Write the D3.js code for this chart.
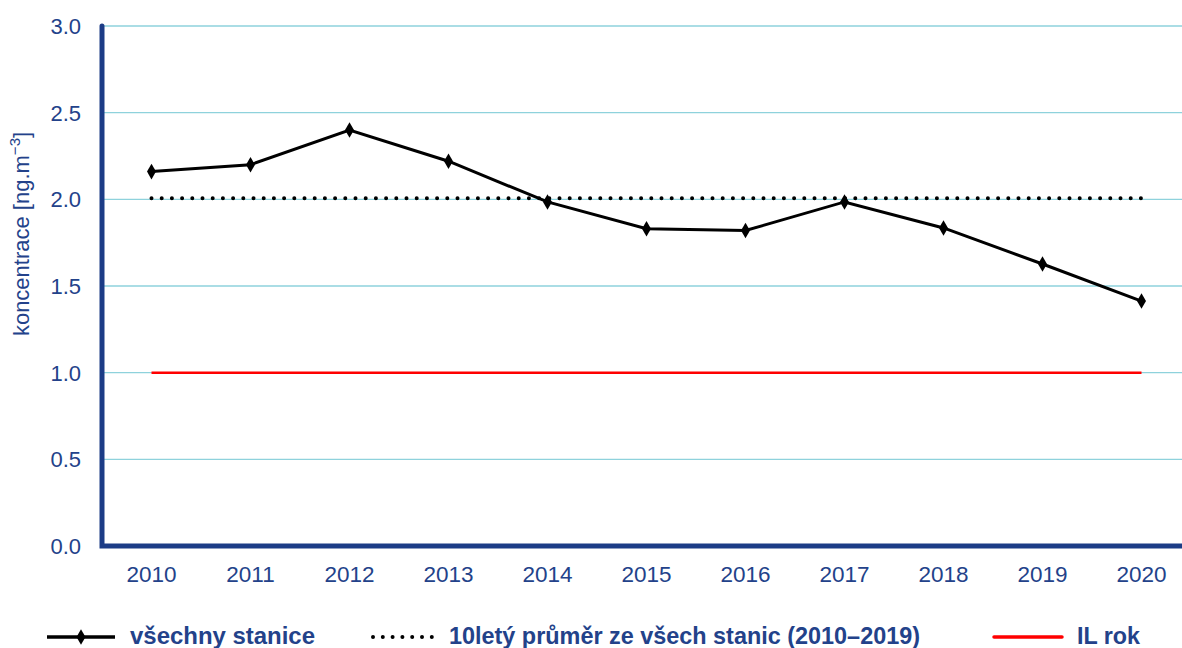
<!DOCTYPE html>
<html>
<head>
<meta charset="utf-8">
<script src="https://cdn.jsdelivr.net/npm/d3@7"></script>
<style>
  body { margin: 0; background: #fff; }
  svg { display: block; font-family: "Liberation Sans", Arial, sans-serif; }
</style>
</head>
<body>
<svg id="chart" width="1182" height="648"></svg>
<script>
// data
const years = ['2010', '2011', '2012', '2013', '2014', '2015', '2016', '2017', '2018', '2019', '2020'];
const allStations = [2.16, 2.20, 2.40, 2.22, 1.985, 1.83, 1.82, 1.985, 1.835, 1.627, 1.413];
const avg10 = [2.006, 2.006, 2.006, 2.006, 2.006, 2.006, 2.006, 2.006, 2.006, 2.006, 2.006];
const limit = [1.0, 1.0, 1.0, 1.0, 1.0, 1.0, 1.0, 1.0, 1.0, 1.0, 1.0];
const yTicks = [0, 0.5, 1.0, 1.5, 2.0, 2.5, 3.0];

const axisBlue = '#1c3c86';
const textBlue = '#23428a';

const svg = d3.select('#chart');
const plotLeft = 102, plotRight = 1191, plotTop = 26, plotBottom = 546;

const x = d3.scaleBand().domain(years).range([plotLeft, plotRight]);
const y = d3.scaleLinear().domain([0, 3]).range([plotBottom, plotTop]);
const cx = d => x(d) + x.bandwidth() / 2;

// gridlines
svg.append('g')
  .selectAll('line')
  .data(yTicks.filter(t => t > 0))
  .join('line')
  .attr('x1', plotLeft)
  .attr('x2', 1182)
  .attr('y1', d => y(d))
  .attr('y2', d => y(d))
  .attr('stroke', '#8ed2dc')
  .attr('stroke-width', 1.3);

// y tick labels
svg.append('g')
  .selectAll('text')
  .data(yTicks)
  .join('text')
  .attr('x', 81)
  .attr('y', d => y(d))
  .attr('dy', '0.36em')
  .attr('text-anchor', 'end')
  .attr('font-size', 22)
  .attr('fill', textBlue)
  .text(d => d.toFixed(1));

// x tick labels
svg.append('g')
  .selectAll('text')
  .data(years)
  .join('text')
  .attr('x', d => cx(d))
  .attr('y', 582)
  .attr('text-anchor', 'middle')
  .attr('font-size', 22.5)
  .attr('fill', textBlue)
  .text(d => d);

// y axis title
svg.append('text')
  .attr('transform', 'translate(29,' + 234 + ') rotate(-90)')
  .attr('text-anchor', 'middle')
  .attr('font-size', 22)
  .attr('fill', textBlue)
  .html('koncentrace [ng.m<tspan dy="-9" font-size="15">−3</tspan><tspan dy="9">]</tspan>');

// IL rok (red)
const line = d3.line().x((d, i) => cx(years[i])).y(d => y(d));
svg.append('path')
  .datum(limit)
  .attr('d', line)
  .attr('fill', 'none')
  .attr('stroke', '#ff0000')
  .attr('stroke-width', 2.5);

// 10-year average (dotted)
svg.append('path')
  .datum(avg10)
  .attr('d', line)
  .attr('fill', 'none')
  .attr('stroke', '#000')
  .attr('stroke-width', 4)
  .attr('stroke-linecap', 'round')
  .attr('stroke-dasharray', '0 10.2');

// all stations
svg.append('path')
  .datum(allStations)
  .attr('d', line)
  .attr('fill', 'none')
  .attr('stroke', '#000')
  .attr('stroke-width', 3);

const diamond = d3.symbol().type(d3.symbolDiamond).size(70);
svg.append('g')
  .selectAll('path')
  .data(allStations)
  .join('path')
  .attr('transform', (d, i) => 'translate(' + cx(years[i]) + ',' + y(d) + ')')
  .attr('d', diamond)
  .attr('fill', '#000');

// axes lines
svg.append('path')
  .attr('d', 'M' + plotLeft + ',' + plotTop + 'V' + plotBottom + 'H' + 1182)
  .attr('fill', 'none')
  .attr('stroke', axisBlue)
  .attr('stroke-width', 5)
  .attr('stroke-linecap', 'round');

// legend
const legend = svg.append('g').attr('font-size', 24).attr('font-weight', 'bold').attr('fill', textBlue);
const ly = 637;
const ty = 644;

legend.append('line').attr('x1', 47).attr('x2', 115).attr('y1', ly).attr('y2', ly)
  .attr('stroke', '#000').attr('stroke-width', 3.5);
legend.append('path').attr('transform', 'translate(81,' + ly + ')').attr('d', diamond).attr('fill', '#000');
legend.append('text').attr('x', 130).attr('y', ty)
  .attr('textLength', 185).attr('lengthAdjust', 'spacingAndGlyphs').text('všechny stanice');

legend.append('line').attr('x1', 373).attr('x2', 432).attr('y1', ly).attr('y2', ly)
  .attr('stroke', '#000').attr('stroke-width', 4).attr('stroke-linecap', 'round')
  .attr('stroke-dasharray', '0 9.8');
legend.append('text').attr('x', 449).attr('y', ty)
  .attr('textLength', 471).attr('lengthAdjust', 'spacingAndGlyphs')
  .text('10letý průměr ze všech stanic (2010–2019)');

legend.append('line').attr('x1', 994).attr('x2', 1062).attr('y1', ly).attr('y2', ly)
  .attr('stroke', '#ff0000').attr('stroke-width', 3.5).attr('stroke-linecap', 'round');
legend.append('text').attr('x', 1077).attr('y', ty)
  .attr('textLength', 63).attr('lengthAdjust', 'spacingAndGlyphs').text('IL rok');
</script>
</body>
</html>
